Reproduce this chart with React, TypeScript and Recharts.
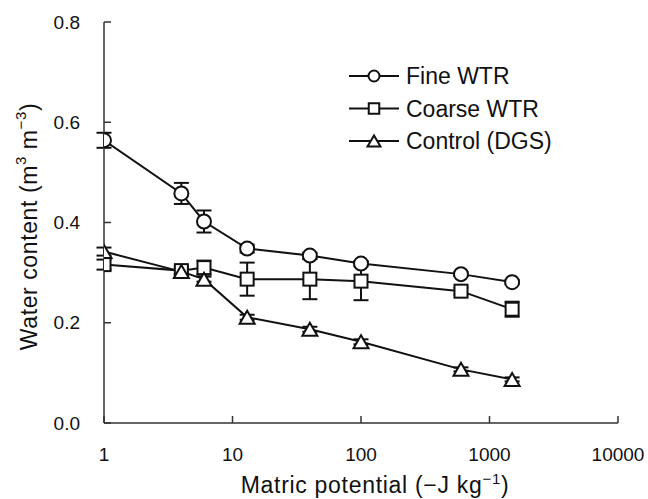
import React from "react";
import { LineChart, Line, XAxis, YAxis, ErrorBar, Legend, Label } from "recharts";

const potentials = [1, 4, 6, 13, 40, 100, 600, 1500];
const fineWTR = [0.564, 0.458, 0.402, 0.348, 0.334, 0.318, 0.297, 0.281];
const fineErr = [0.015, 0.021, 0.022, 0.008, 0.006, 0.005, 0.004, 0.004];
const coarseWTR = [0.316, 0.304, 0.31, 0.287, 0.287, 0.283, 0.263, 0.227];
const coarseErr = [0.01, 0.008, 0.014, 0.033, 0.04, 0.038, 0.007, 0.015];
const controlDGS = [0.342, 0.302, 0.287, 0.211, 0.187, 0.162, 0.107, 0.087];
const controlErr = [0.008, 0.005, 0.005, 0.005, 0.005, 0.005, 0.004, 0.004];
const xTicks = [1, 10, 100, 1000, 10000];
const yTicks = [0, 0.2, 0.4, 0.6, 0.8];
const seriesNames = ["Fine WTR", "Coarse WTR", "Control (DGS)"];

const data = potentials.map((p, i) => ({
  p,
  fine: fineWTR[i],
  fineErr: fineErr[i],
  coarse: coarseWTR[i],
  coarseErr: coarseErr[i],
  control: controlDGS[i],
  controlErr: controlErr[i],
}));

const FONT = "'Liberation Sans', Arial, sans-serif";
const INK = "#111";

const CircleDot = (props: any) => {
  const { cx, cy, mr = 7 } = props;
  if (cx == null || cy == null) return null;
  return <circle cx={cx} cy={cy} r={mr} fill="#fff" stroke={INK} strokeWidth={2} />;
};
const SquareDot = (props: any) => {
  const { cx, cy, s = 13 } = props;
  if (cx == null || cy == null) return null;
  return <rect x={cx - s / 2} y={cy - s / 2} width={s} height={s} fill="#fff" stroke={INK} strokeWidth={2} />;
};
const TriangleDot = (props: any) => {
  const { cx, cy, w = 15, h = 13 } = props;
  if (cx == null || cy == null) return null;
  const pts = `${cx},${cy - h / 2} ${cx - w / 2},${cy + h / 2} ${cx + w / 2},${cy + h / 2}`;
  return <polygon points={pts} fill="#fff" stroke={INK} strokeWidth={2} strokeLinejoin="miter" />;
};

const legendShapes = [CircleDot, SquareDot, TriangleDot];

const renderLegend = () => (
  <svg width={260} height={110} style={{ display: "block", overflow: "visible" }}>
    {seriesNames.map((name, i) => {
      const y = 20 + i * 32.5;
      const Shape = legendShapes[i];
      const extra = i === 0 ? { mr: 5.5 } : i === 1 ? { s: 10.5 } : { w: 13, h: 11 };
      return (
        <g key={name}>
          <line x1={9} x2={59} y1={y} y2={y} stroke={INK} strokeWidth={2} />
          <Shape cx={34} cy={y} {...extra} />
          <text x={66} y={y + 8} fontFamily={FONT} fontSize={23} fill={INK}>
            {name}
          </text>
        </g>
      );
    })}
  </svg>
);

const YTitle = (props: any) => {
  const vb = props.viewBox || {};
  const cx = 29;
  const cy = (vb.y ?? 22) + (vb.height ?? 401) / 2 + 4;
  return (
    <text
      x={cx}
      y={cy}
      transform={`rotate(-90, ${cx}, ${cy})`}
      textAnchor="middle"
      dominantBaseline="central"
      fontFamily={FONT}
      fontSize={23}
      letterSpacing={0.6}
      fill={INK}
    >
      Water content (m<tspan dy={-9} fontSize={15}>3</tspan>
      <tspan dy={9}> m</tspan>
      <tspan dy={-9} fontSize={15}>−3</tspan>
      <tspan dy={9}>)</tspan>
    </text>
  );
};

const XTitle = (props: any) => {
  const vb = props.viewBox || {};
  const cx = (vb.x ?? 104) + (vb.width ?? 514) / 2 + 14;
  const y = 493;
  return (
    <text x={cx} y={y} textAnchor="middle" fontFamily={FONT} fontSize={23} letterSpacing={0.7} fill={INK}>
      Matric potential (−J kg<tspan dy={-9} fontSize={15}>−1</tspan>
      <tspan dy={9}>)</tspan>
    </text>
  );
};

const seriesKeys = ["fine", "coarse", "control"];
const errKeys = ["fineErr", "coarseErr", "controlErr"];
const dotShapes = [<CircleDot />, <SquareDot />, <TriangleDot />];

export default function App() {
  return (
    <div style={{ width: 648, height: 499, background: "#fff" }}>
      <style>{`body{margin:0;background:#fff}`}</style>
      <LineChart
        width={648}
        height={499}
        data={data}
        margin={{ top: 22, right: 30, bottom: 0, left: 0 }}
      >
        <XAxis
          dataKey="p"
          type="number"
          scale="log"
          domain={[1, 10000]}
          ticks={xTicks}
          allowDataOverflow
          height={76}
          stroke="#333"
          strokeWidth={1.5}
          tickSize={-7}
          tickMargin={32}
          tick={{ fontFamily: FONT, fontSize: 19, fill: INK }}
          tickFormatter={(v: number) => String(v)}
          interval={0}
        >
          <Label content={<XTitle />} />
        </XAxis>
        <YAxis
          type="number"
          domain={[0, 0.8]}
          ticks={yTicks}
          width={104}
          stroke="#333"
          strokeWidth={1.5}
          tickSize={-7}
          tickMargin={31}
          tick={{ fontFamily: FONT, fontSize: 19, fill: INK }}
          tickFormatter={(v: number) => v.toFixed(1)}
          interval={0}
        >
          <Label content={<YTitle />} />
        </YAxis>
        <Legend
          layout="vertical"
          align="center"
          verticalAlign="middle"
          wrapperStyle={{ left: 340, top: 56, width: 260, height: 110 }}
          content={renderLegend}
        />
        {seriesKeys.map((k, i) => (
          <Line
            key={`err-${k}`}
            dataKey={k}
            stroke="none"
            dot={false}
            activeDot={false}
            legendType="none"
            isAnimationActive={false}
          >
            <ErrorBar dataKey={errKeys[i]} direction="y" width={7.5} stroke={INK} strokeWidth={2} />
          </Line>
        ))}
        {seriesKeys.map((k, i) => (
          <Line
            key={k}
            dataKey={k}
            stroke={INK}
            strokeWidth={2}
            isAnimationActive={false}
            dot={dotShapes[i]}
            activeDot={false}
          />
        ))}
      </LineChart>
    </div>
  );
}
